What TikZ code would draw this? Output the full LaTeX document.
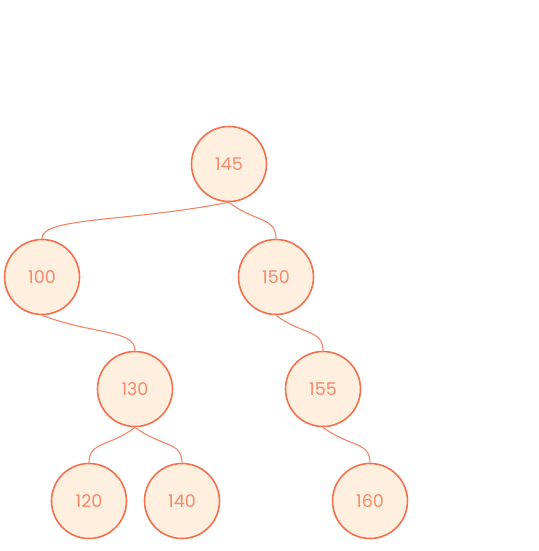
\documentclass[tikz,border=0pt]{standalone}
\usepackage{fontspec}
\setmainfont{Poppins}
\usetikzlibrary{calc}
\definecolor{ringc}{HTML}{F4714F}
\definecolor{fillc}{HTML}{FFEFDE}
\definecolor{textc}{HTML}{F58A6C}
\definecolor{edgec}{HTML}{F58366}
\tikzset{
  tnode/.style={circle, draw=ringc, fill=fillc, line width=1.6pt, minimum size=75pt, inner sep=0pt, text=textc, font=\fontsize{17.5}{20}\selectfont},
  tedge/.style={draw=edgec, line width=1.1pt}
}
\newcommand{\tlink}[2]{%
  \draw[tedge] (#1.south) .. controls ($(#1.south)!0.55!(#2.north)$) and ($(#2.north)!0.6!(#2.north |- #1.south)$) .. (#2.north);}
\begin{document}
\begin{tikzpicture}[x=1pt,y=-1pt]
\useasboundingbox (0,0) rectangle (538,551);
\path (229,164) coordinate (c145) (42,277) coordinate (c100) (276,277) coordinate (c150)
      (135,389) coordinate (c130) (323,389) coordinate (c155)
      (89,501) coordinate (c120) (182,501) coordinate (c140) (370,501) coordinate (c160);
\begin{scope}
\foreach \n in {145,100,150,130,155,120,140,160}{\path (c\n) node[tnode] (n\n) {\n};}
\end{scope}
\tlink{n145}{n100}
\tlink{n145}{n150}
\tlink{n100}{n130}
\tlink{n150}{n155}
\tlink{n130}{n120}
\tlink{n130}{n140}
\tlink{n155}{n160}
\end{tikzpicture}
\end{document}
